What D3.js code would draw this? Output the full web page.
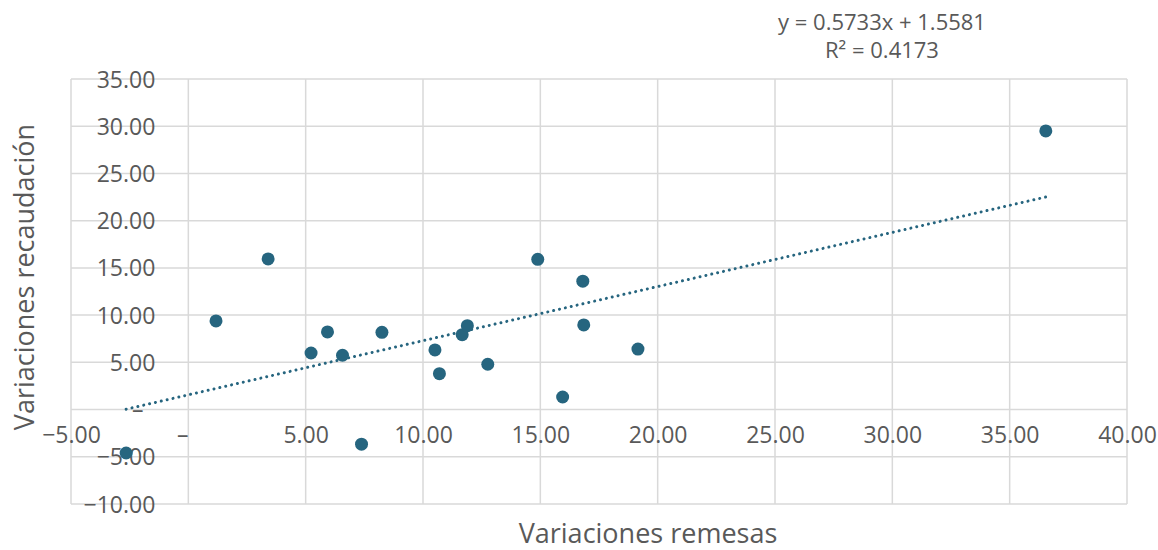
<!DOCTYPE html>
<html><head><meta charset="utf-8">
<script src="https://cdn.jsdelivr.net/npm/d3@7"></script>
<style>
html,body{margin:0;padding:0;background:#fff;}
svg{display:block;font-family:"Open Sans",sans-serif;}
</style></head>
<body>
<svg id="chart" width="1158" height="550"></svg>
<script>
// Data
const remesas = [-2.65, 1.18, 3.40, 5.23, 5.93, 6.57, 8.25, 7.38, 10.51, 10.70, 11.67, 11.89, 12.76, 14.89, 16.81, 16.85, 15.95, 19.16, 36.54];
const recaudacion = [-4.60, 9.38, 15.95, 5.99, 8.22, 5.75, 8.18, -3.67, 6.31, 3.80, 7.93, 8.88, 4.80, 15.91, 13.59, 8.96, 1.33, 6.40, 29.50];
const xTicks = [-5, 0, 5, 10, 15, 20, 25, 30, 35, 40];
const yTicks = [-10, -5, 0, 5, 10, 15, 20, 25, 30, 35];
const trendSlope = 0.5733;
const trendIntercept = 1.5581;
const trendLabel = ["y = 0.5733x + 1.5581", "R² = 0.4173"];
const xTitle = "Variaciones remesas";
const yTitle = "Variaciones recaudación";

const svg = d3.select("#chart");
const plot = {left: 71, right: 1127, top: 79, bottom: 504};
const color = "#26657f";
const textColor = "#595959";
const gridColor = "#d9d9d9";

const x = d3.scaleLinear().domain([-5, 40]).range([plot.left, plot.right]);
const y = d3.scaleLinear().domain([-10, 35]).range([plot.bottom, plot.top]);

const fmt = v => v === 0 ? "\u2013\u00A0\u00A0" : d3.format(",.2f")(v).replace("-", "\u2212");

// gridlines
svg.append("g").selectAll("line").data(xTicks).join("line")
  .attr("x1", d => x(d)).attr("x2", d => x(d))
  .attr("y1", plot.top).attr("y2", plot.bottom)
  .attr("stroke", gridColor).attr("stroke-width", 1.5);
svg.append("g").selectAll("line").data(yTicks).join("line")
  .attr("x1", plot.left).attr("x2", plot.right)
  .attr("y1", d => y(d)).attr("y2", d => y(d))
  .attr("stroke", gridColor).attr("stroke-width", 1.5);

// axes crossing at (0,0): y axis at x=0, x axis at y=0
const yAxis = d3.axisLeft(y).tickValues(yTicks).tickFormat(fmt).tickSize(0).tickPadding(33);
const yG = svg.append("g").attr("transform", `translate(${x(0)},0)`).call(yAxis);
yG.select(".domain").remove();
yG.selectAll("text").attr("fill", textColor).style("font-size", "23px")
  .attr("dy", "0.35em");

const xAxis = d3.axisBottom(x).tickValues(xTicks).tickFormat(fmt).tickSize(0).tickPadding(17);
const xG = svg.append("g").attr("transform", `translate(0,${y(0)})`).call(xAxis);
xG.select(".domain").remove();
xG.selectAll("text").attr("fill", textColor).style("font-size", "23px");
svg.selectAll("g").attr("font-family", null).attr("font-size", null);

// trendline (dotted)
const xMin = d3.min(remesas), xMax = d3.max(remesas);
svg.append("line")
  .attr("x1", x(xMin)).attr("y1", y(trendSlope * xMin + trendIntercept))
  .attr("x2", x(xMax)).attr("y2", y(trendSlope * xMax + trendIntercept))
  .attr("stroke", color).attr("stroke-width", 3)
  .attr("stroke-linecap", "round").attr("stroke-dasharray", "0.01 6");

// points
svg.append("g").selectAll("circle").data(remesas.map((r, i) => [r, recaudacion[i]])).join("circle")
  .attr("cx", d => x(d[0])).attr("cy", d => y(d[1])).attr("r", 6.5)
  .attr("fill", color);

// trend equation
svg.append("g").selectAll("text").data(trendLabel).join("text")
  .attr("x", 882).attr("y", (d, i) => 30 + i * 28)
  .attr("text-anchor", "middle").attr("fill", textColor)
  .style("font-size", "22px").text(d => d);

// axis titles
svg.append("text").attr("x", (plot.left + plot.right) / 2 + 49).attr("y", 543)
  .attr("text-anchor", "middle").attr("fill", textColor).style("font-size", "27px").text(xTitle);
svg.append("text").attr("transform", `translate(34,277) rotate(-90)`)
  .attr("text-anchor", "middle").attr("fill", textColor).style("font-size", "27px").text(yTitle);
</script>
</body></html>
